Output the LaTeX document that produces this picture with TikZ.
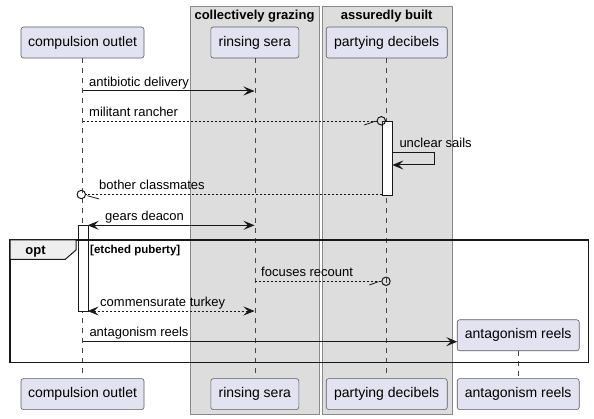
\documentclass[tikz,border=0pt]{standalone}
\usepackage{fontspec}
\setmainfont{Liberation Sans}
\usetikzlibrary{arrows.meta}
\definecolor{partfill}{HTML}{E2E2F0}
\definecolor{partline}{HTML}{181818}
\definecolor{grpfill}{HTML}{DDDDDD}
\definecolor{grpline}{HTML}{8A8A8A}
\definecolor{tabfill}{HTML}{EEEEEE}
\definecolor{ink}{HTML}{181818}
\begin{document}
\begin{tikzpicture}[x=1pt,y=-1pt,
  >={Stealth[length=11pt,width=9pt,inset=4.5pt]},
  part/.style={draw=partline!70, fill=partfill, rounded corners=2.5pt, line width=0.6pt,
    minimum height=31pt, inner sep=0pt, anchor=north, font=\fontsize{14}{16}\selectfont},
  grpbox/.style={draw=grpline, fill=grpfill, line width=0.8pt, anchor=north west, inner sep=0pt},
  grptitle/.style={anchor=base, inner sep=0pt, font=\bfseries\fontsize{13}{15}\selectfont},
  lifeline/.style={draw=ink!80, line width=0.5pt, dash pattern=on 5pt off 5pt},
  msg/.style={draw=ink, line width=1pt},
  reply/.style={draw=ink, line width=0.8pt, dash pattern=on 2pt off 2pt},
  endring/.style={draw=ink, line width=1pt},
  halfhead/.style={draw=ink, line width=0.8pt},
  lbl/.style={anchor=base west, inner sep=0pt, font=\fontsize{13}{15}\selectfont},
  actbar/.style={draw=ink, fill=white, line width=1pt, anchor=north west, inner sep=0pt, minimum width=10pt},
  frame/.style={draw=ink, line width=1.5pt},
  tab/.style={draw=ink, fill=tabfill, line width=1pt}]
\useasboundingbox (0,0) rectangle (594,419);
\fill[white] (0,0) rectangle (594,419);

% groups
\node[grpbox, minimum width=129pt, minimum height=407.5pt] (g1) at (190,6) {};
\node[grpbox, minimum width=130.5pt, minimum height=407.5pt] (g2) at (321.5,6) {};
\node[grptitle] (g1t) at (254.5,19.5) {collectively grazing};
\node[grptitle] (g2t) at (386.7,19.5) {assuredly built};

% participants
\node[part, minimum width=123pt] (p1) at (82.5,26.7) {compulsion outlet};
\node[part, minimum width=88pt] (p2) at (254.8,26.7) {rinsing sera};
\node[part, minimum width=121pt] (p3) at (386.7,26.7) {partying decibels};
\node[part, minimum width=122pt] (p4) at (518.2,319.5) {antagonism reels};
\node[part, minimum width=123pt] (p1b) at (82.5,378.3) {compulsion outlet};
\node[part, minimum width=88pt] (p2b) at (254.8,378.3) {rinsing sera};
\node[part, minimum width=121pt] (p3b) at (386.7,378.3) {partying decibels};
\node[part, minimum width=122pt] (p4b) at (518.2,378.3) {antagonism reels};

% lifelines
\draw[lifeline] (p1.south) -- (p1b.north);
\draw[lifeline] (p2.south) -- (p2b.north);
\draw[lifeline] (p3.south) -- (p3b.north);
\draw[lifeline] (p4.south) -- (p4b.north);

% activation bars
\node[actbar, minimum height=73.7pt] (a3) at (382.3,121.3) {};
\node[actbar, minimum height=85.7pt] (a1) at (77.7,225.3) {};

% opt frame
\draw[frame] (10,240) rectangle (588.7,362.3);
\draw[tab] (10,240) -- (76,240) -- (76,250) -- (65.3,259.3) -- (10,259.3) -- cycle;
\node[anchor=base, inner sep=0pt, font=\bfseries\fontsize{13}{15}\selectfont] (optl) at (35.5,255) {opt};
\node[anchor=base west, inner sep=0pt, font=\bfseries\fontsize{11.5}{13}\selectfont] (cond) at (90,254) {[etched puberty]};

% coordinates
\coordinate (m1a) at (82.5,91);   \coordinate (m1b) at (254.5,91);
\coordinate (m2a) at (82.5,121);  \coordinate (m2b) at (377,121);
\coordinate (r2) at (381.3,120.8);
\coordinate (s1) at (392.3,152.3); \coordinate (s2) at (434,152.3);
\coordinate (s3) at (434,165);     \coordinate (s4) at (392.3,165);
\coordinate (m4a) at (382.3,194.5); \coordinate (m4b) at (85.5,194.5);
\coordinate (r4) at (81.3,194.5);
\coordinate (m5a) at (87.7,225.3); \coordinate (m5b) at (254.5,225.3);
\coordinate (m6a) at (254.5,281.3); \coordinate (m6b) at (381.7,281.3);
\coordinate (r6) at (386,281.3);
\coordinate (m7a) at (87.7,311);   \coordinate (m7b) at (254.5,311);
\coordinate (m8a) at (82.5,341.7); \coordinate (m8b) at (457.3,341.7);

% messages
\draw[msg,->] (m1a) -- (m1b);
\node[lbl] (l1) at (89,86.5) {antibiotic delivery};

\draw[reply] (m2a) -- (m2b);
\draw[endring] (r2) circle[radius=4.2pt];
\draw[halfhead] (364.3,125) -- (375,121.3);
\node[lbl] (l2) at (89,116.5) {militant rancher};

\draw[msg,->] (s1) -- (s2) -- (s3) -- (s4);
\node[lbl] (l3) at (399.3,147.5) {unclear sails};

\draw[reply] (m4a) -- (m4b);
\draw[endring] (r4) circle[radius=4.2pt];
\draw[halfhead] (99.3,199) -- (87.3,195.7);
\node[lbl] (l4) at (99,190) {bother classmates};

\draw[msg,<->] (m5a) -- (m5b);
\node[lbl] (l5) at (105,220.5) {gears deacon};

\draw[reply] (m6a) -- (m6b);
\draw[endring] (r6) circle[radius=4.2pt];
\draw[halfhead] (369.3,285) -- (378.3,281.7);
\node[lbl] (l6) at (261,276.7) {focuses recount};

\draw[reply,<->] (m7a) -- (m7b);
\node[lbl] (l7) at (100,306.5) {commensurate turkey};

\draw[msg,->] (m8a) -- (m8b);
\node[lbl] (l8) at (89.3,337) {antagonism reels};
\end{tikzpicture}
\end{document}
